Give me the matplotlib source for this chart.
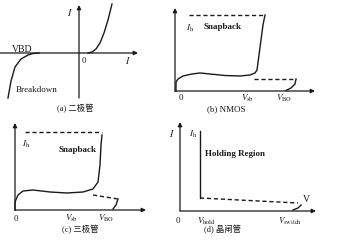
import matplotlib
matplotlib.use("Agg")
import matplotlib.pyplot as plt
import numpy as np

plt.rcParams['font.family'] = ['Liberation Serif', 'Noto Sans CJK SC']
plt.rcParams['mathtext.fontset'] = 'stix'

INK = '#1a1a1a'

# (a) diode: forward and breakdown branches
diode_fwd_v = [0.9, 1.3, 1.7, 2.1, 2.5, 2.9, 3.2, 3.3]
diode_fwd_i = [0.0, 0.1, 0.4, 1.0, 2.0, 3.3, 4.5, 4.9]
diode_bd_v = [-4.0, -4.6, -5.1, -5.8, -6.4, -6.8, -7.1]
diode_bd_i = [0.0, -0.05, -0.2, -0.6, -1.4, -2.8, -4.5]

# (b) NMOS snapback
nmos_v = [0.1, 0.1, 0.3, 0.8, 1.7, 2.5, 3.5, 5.0, 6.5, 7.5, 8.0, 8.2, 8.4, 8.6, 8.8, 9.0]
nmos_i = [0.0, 0.9, 1.2, 1.5, 1.7, 1.8, 1.7, 1.55, 1.5, 1.6, 1.8, 2.1, 3.6, 5.1, 6.6, 7.6]
nmos_top_v = [1.4, 9.0]
nmos_top_i = [7.6, 7.6]
nmos_low_v = [7.9, 12.1]
nmos_low_i = [1.2, 1.2]
nmos_curl_v = [12.1, 12.0, 11.6, 11.1]
nmos_curl_i = [1.2, 0.7, 0.3, 0.05]

# (c) BJT snapback
bjt_v = [0.0, 0.0, 0.3, 0.8, 1.8, 3.5, 5.2, 6.8, 7.8, 8.3, 8.5, 8.6, 8.7]
bjt_i = [0.0, 0.8, 1.5, 1.9, 2.0, 1.8, 1.7, 1.8, 2.1, 2.8, 4.5, 6.5, 7.5]
bjt_top_v = [1.0, 8.7]
bjt_top_i = [7.8, 7.8]
bjt_low_v = [7.8, 10.3]
bjt_low_i = [1.5, 1.1]
bjt_curl_v = [10.3, 10.1, 9.8]
bjt_curl_i = [1.1, 0.5, 0.1]

# (d) thyristor
scr_hold_v = [2.0, 2.0]
scr_hold_i = [8.0, 1.3]
scr_dash_v = [2.0, 11.8]
scr_dash_i = [1.3, 0.8]
scr_curl_v = [11.3, 11.8, 12.1]
scr_curl_i = [0.1, 0.3, 0.6]

W, H = 338, 244
fig = plt.figure(figsize=(W / 100, H / 100), dpi=100)
fig.patch.set_facecolor('white')


def panel(ox, oy, x0, x1, y0, y1):
    ax = fig.add_axes([x0 / W, 1 - y1 / H, (x1 - x0) / W, (y1 - y0) / H])
    ax.set_xlim((x0 - ox) / 10, (x1 - ox) / 10)
    ax.set_ylim((oy - y1) / 10, (oy - y0) / 10)
    ax.axis('off')
    return ax


def arrow(ax, start, end):
    ax.annotate('', xy=end, xytext=start,
                arrowprops=dict(arrowstyle='-|>', lw=0.9, color=INK,
                                mutation_scale=6, shrinkA=0, shrinkB=0))


def txt(ax, x, y, s, size=6.5, ha='center', **kw):
    ax.text(x, y, s, fontsize=size, ha=ha, va='center', color=INK, **kw)


lw = 1.0

# (a)
ax = panel(79, 53, 0, 140, 0, 120)
arrow(ax, (-7.9, 0), (5.9, 0))
arrow(ax, (0, -4.5), (0, 4.8))
ax.plot(diode_fwd_v, diode_fwd_i, color=INK, lw=lw)
ax.plot(diode_bd_v, diode_bd_i, color=INK, lw=lw)
txt(ax, -0.9, 4.1, r'$I$', size=7)
txt(ax, 0.5, -0.8, '0')
txt(ax, 4.9, -0.8, r'$I$', size=7)
txt(ax, -5.7, 0.4, 'VBD', size=7)
txt(ax, -6.3, -3.7, 'Breakdown', ha='left')
txt(ax, -0.4, -5.6, '(a) 二极管', size=6)

# (b)
ax = panel(175, 91, 170, 320, 0, 120)
arrow(ax, (0, 0), (14.0, 0))
arrow(ax, (0, 0), (0, 8.3))
ax.plot(nmos_v, nmos_i, color=INK, lw=lw)
ax.plot(nmos_top_v, nmos_top_i, color=INK, lw=lw, ls=(0, (3, 2)))
ax.plot(nmos_low_v, nmos_low_i, color=INK, lw=lw, ls=(0, (3, 2)))
ax.plot(nmos_curl_v, nmos_curl_i, color=INK, lw=lw)
txt(ax, 1.5, 6.3, r'$I_{\mathrm{h}}$')
txt(ax, 4.8, 6.4, 'Snapback', size=6.5, fontweight='bold')
txt(ax, 0.6, -0.7, '0')
txt(ax, 7.3, -0.7, r'$V_{\mathrm{sb}}$')
txt(ax, 10.9, -0.7, r'$V_{\mathrm{BO}}$')
txt(ax, 5.1, -1.8, '(b) NMOS', size=6.5)

# (c)
ax = panel(15, 210, 5, 160, 120, 244)
arrow(ax, (0, 0), (13.1, 0))
arrow(ax, (0, 0), (0, 8.7))
ax.plot(bjt_v, bjt_i, color=INK, lw=lw)
ax.plot(bjt_top_v, bjt_top_i, color=INK, lw=lw, ls=(0, (3, 2)))
ax.plot(bjt_low_v, bjt_low_i, color=INK, lw=lw, ls=(0, (3, 2)))
ax.plot(bjt_curl_v, bjt_curl_i, color=INK, lw=lw)
txt(ax, 1.1, 6.6, r'$I_{\mathrm{h}}$')
txt(ax, 6.3, 6.0, 'Snapback', size=6.5, fontweight='bold')
txt(ax, 0.1, -0.9, '0')
txt(ax, 5.7, -0.8, r'$V_{\mathrm{sb}}$')
txt(ax, 9.1, -0.8, r'$V_{\mathrm{BO}}$')
txt(ax, 6.5, -2.0, '(c) 三极管', size=6)

# (d)
ax = panel(180, 211, 170, 330, 120, 244)
arrow(ax, (0, 0), (13.6, 0))
arrow(ax, (0, 0), (0, 8.9))
ax.plot(scr_hold_v, scr_hold_i, color=INK, lw=lw)
ax.plot(scr_dash_v, scr_dash_i, color=INK, lw=lw, ls=(0, (3, 2)))
ax.plot(scr_curl_v, scr_curl_i, color=INK, lw=lw)
txt(ax, -0.8, 7.7, r'$I$', size=7)
txt(ax, 1.3, 7.7, r'$I_{\mathrm{h}}$')
txt(ax, 2.5, 5.7, 'Holding Region', size=6.5, ha='left', fontweight='bold')
txt(ax, 12.6, 1.2, 'V', size=7)
txt(ax, -0.2, -1.0, '0')
txt(ax, 2.6, -1.0, r'$V_{\mathrm{hold}}$')
txt(ax, 11.0, -1.0, r'$V_{\mathrm{switch}}$')
txt(ax, 4.3, -1.9, '(d) 晶闸管', size=6)

fig.savefig('out.png', dpi=100, facecolor='white')
